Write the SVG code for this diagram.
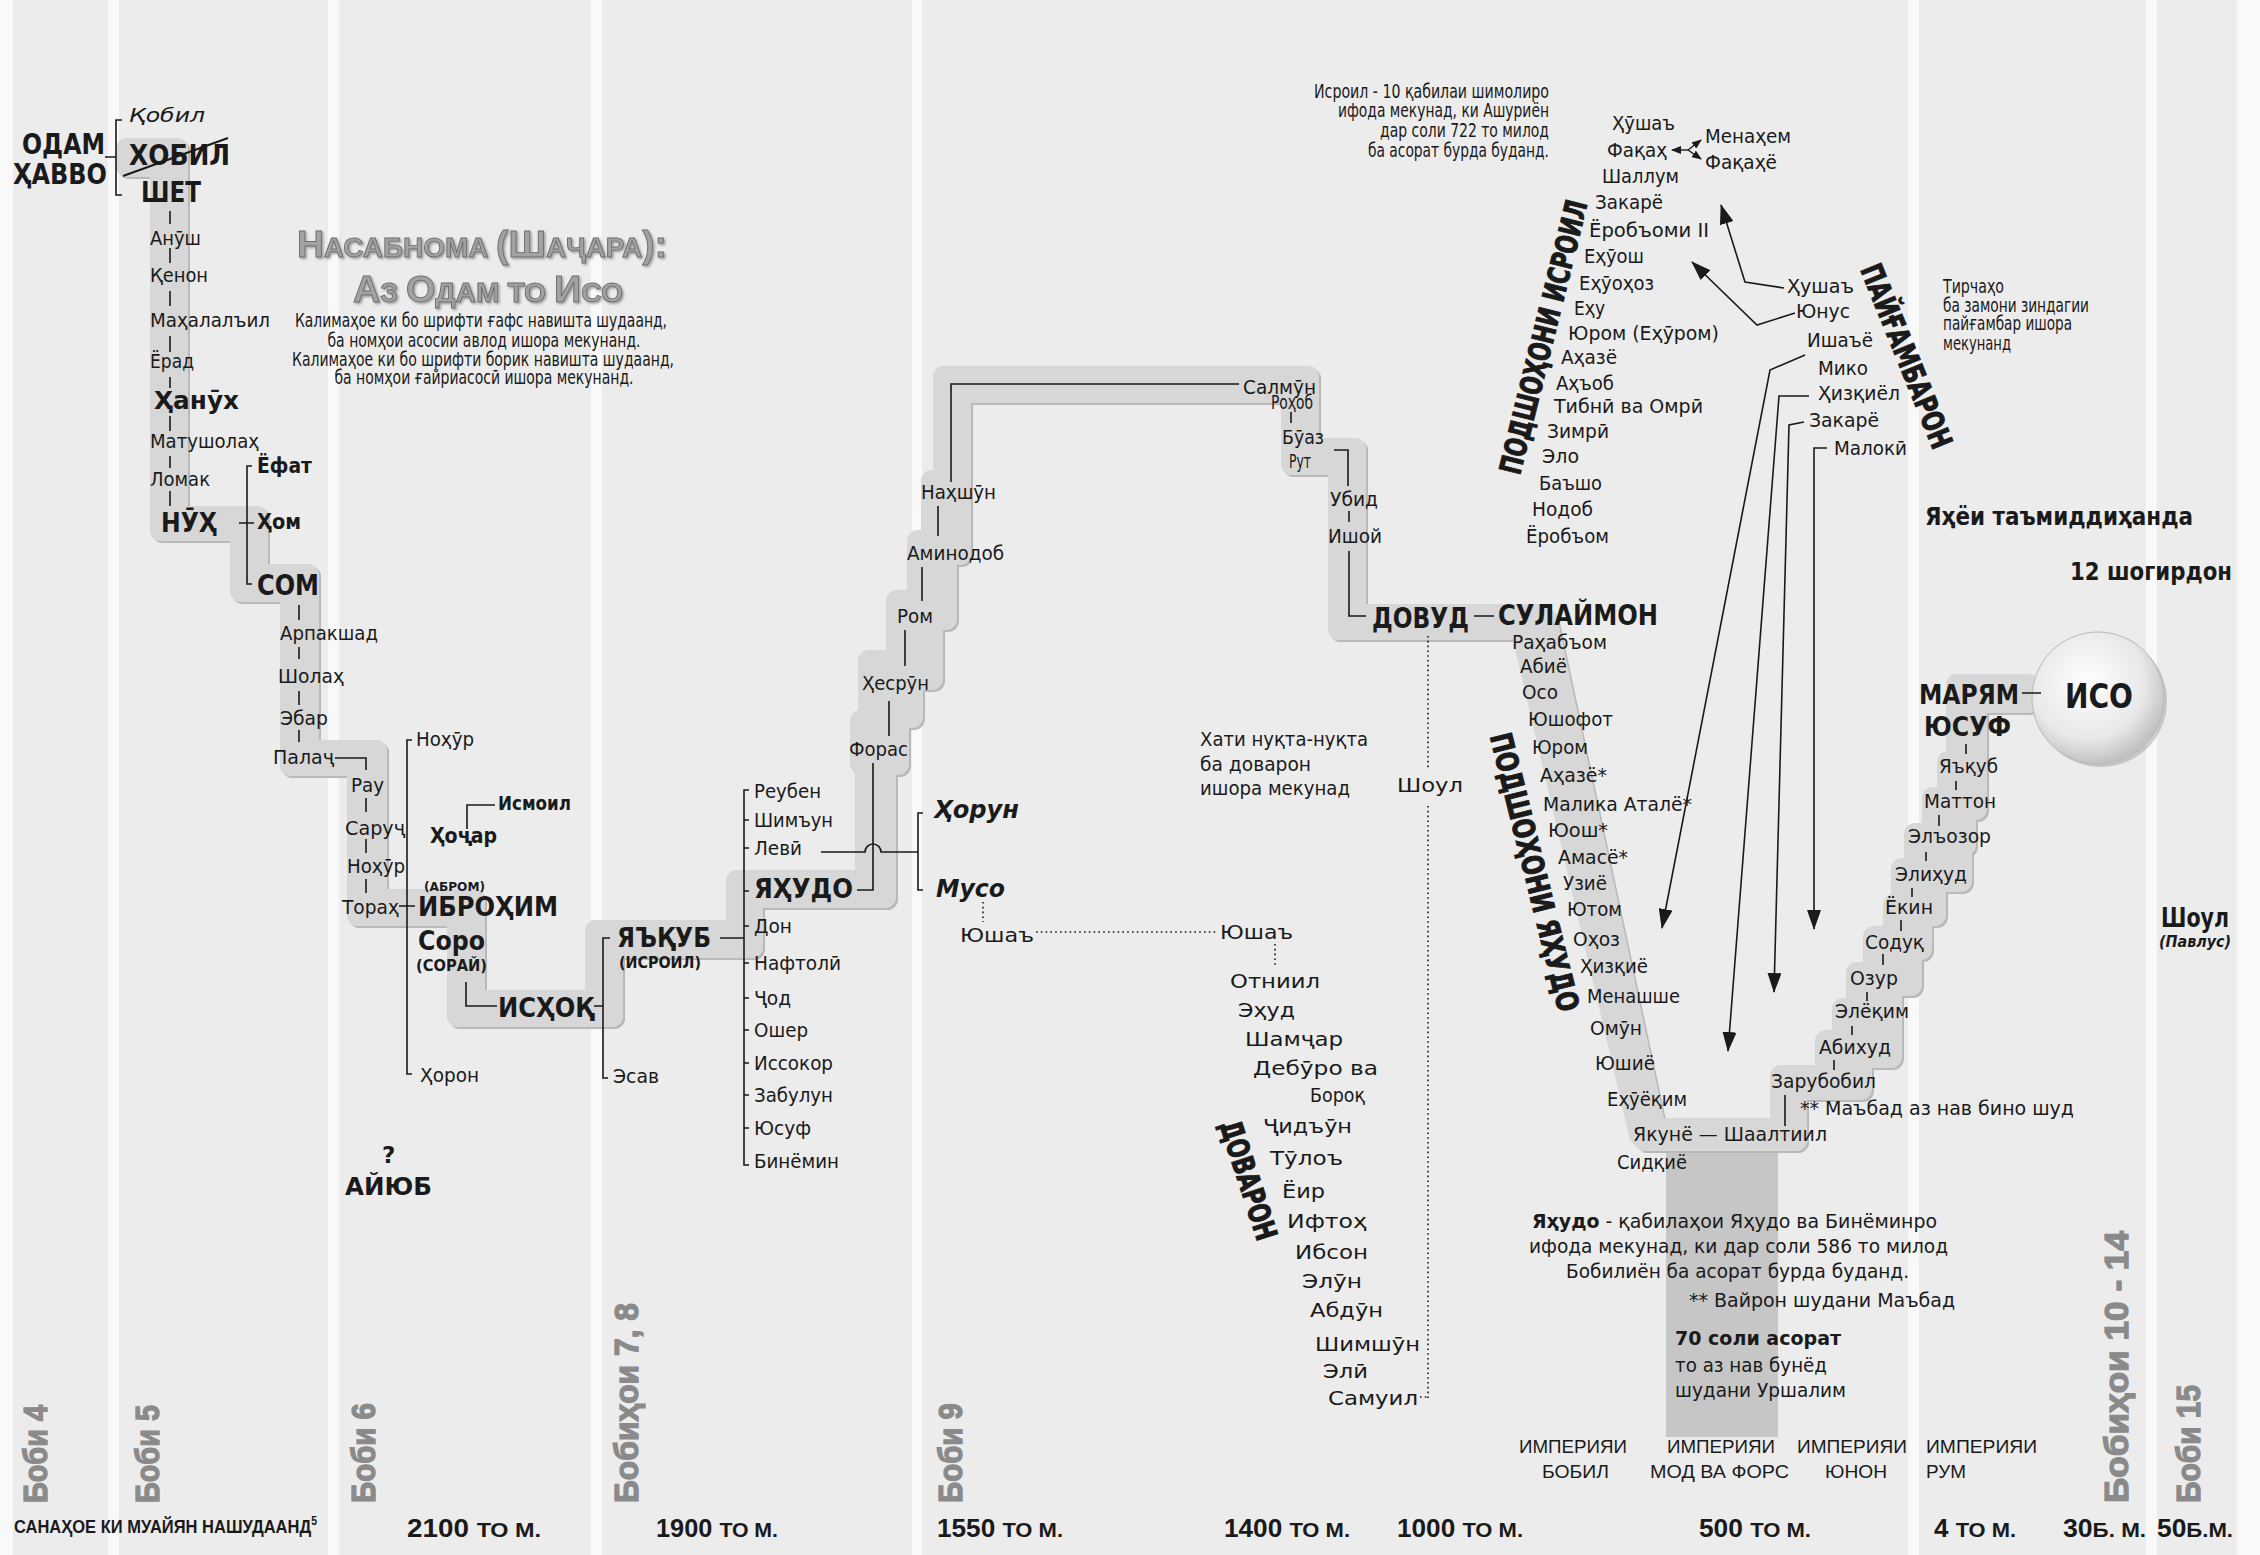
<svg xmlns="http://www.w3.org/2000/svg" width="2260" height="1555" viewBox="0 0 2260 1555">
<defs>
<style>
.n{font-family:"DejaVu Sans Condensed","DejaVu Sans",sans-serif;font-stretch:condensed;font-size:20px;fill:#1a1a1a}
.v{font-family:"DejaVu Sans",sans-serif;font-size:20px;fill:#1a1a1a}
.b{font-family:"DejaVu Sans",sans-serif;font-weight:bold;fill:#1a1a1a}
.hv{font-family:"DejaVu Sans",sans-serif;font-weight:bold;font-size:30px;fill:#1a1a1a;stroke:#1a1a1a;stroke-width:1.1;text-anchor:middle}
.ch{font-family:"Liberation Sans",sans-serif;font-weight:bold;font-size:33px;fill:#8a8a8a;stroke:#8a8a8a;stroke-width:1.3}
.dt{font-family:"Liberation Sans",sans-serif;font-weight:bold;font-size:25px;fill:#1a1a1a}
.em{font-family:"Liberation Sans",sans-serif;font-size:19px;fill:#1a1a1a}
.tt{font-family:"Liberation Sans",sans-serif;font-weight:bold;fill:#a2a2a2;stroke:#6e6e6e;stroke-width:0.9;text-anchor:middle}
.ln{stroke:#1a1a1a;stroke-width:1.6;fill:none}
.dot{stroke:#1a1a1a;stroke-width:1.6;stroke-dasharray:1.6 3.2;fill:none}
.arr{stroke:#1a1a1a;stroke-width:1.6;fill:none;marker-end:url(#ah)}
.arrs{stroke:#1a1a1a;stroke-width:1.4;fill:none;marker-end:url(#as)}
</style>
<marker id="ah" viewBox="0 0 20 14" refX="19" refY="7" markerWidth="20" markerHeight="14" markerUnits="userSpaceOnUse" orient="auto"><path d="M0,0 L20,7 L0,14 z" fill="#1a1a1a"/></marker>
<marker id="as" viewBox="0 0 10 8" refX="9" refY="4" markerWidth="10" markerHeight="8" markerUnits="userSpaceOnUse" orient="auto"><path d="M0,0 L10,4 L0,8 z" fill="#1a1a1a"/></marker>
<radialGradient id="isoG" cx="0.42" cy="0.38" r="0.62">
<stop offset="0" stop-color="#ffffff"/><stop offset="0.7" stop-color="#e8e8e8"/><stop offset="1" stop-color="#c2c2c2"/>
</radialGradient>
<filter id="tsh" x="-10%" y="-20%" width="120%" height="150%"><feDropShadow dx="1.5" dy="1.5" stdDeviation="1.2" flood-color="#000" flood-opacity="0.35"/></filter>
<g id="band">
<rect x="116" y="138" width="72" height="39" rx="11"/>
<rect x="150" y="138" width="38" height="403" rx="11"/>
<rect x="150" y="506" width="118" height="35" rx="11"/>
<rect x="230" y="506" width="38" height="96" rx="11"/>
<rect x="230" y="564" width="89" height="38" rx="11"/>
<rect x="280" y="564" width="39" height="212" rx="11"/>
<rect x="280" y="740" width="107" height="36" rx="11"/>
<rect x="347" y="740" width="40" height="186" rx="11"/>
<rect x="347" y="889" width="138" height="37" rx="11"/>
<rect x="447" y="889" width="38" height="138" rx="11"/>
<rect x="447" y="990" width="176" height="37" rx="11"/>
<rect x="585" y="920" width="38" height="107" rx="11"/>
<rect x="585" y="920" width="178" height="38" rx="11"/>
<rect x="726" y="870" width="37" height="88" rx="11"/>
<rect x="726" y="870" width="170" height="38" rx="11"/>
<rect x="855" y="740" width="41" height="168" rx="11"/>
<rect x="850" y="710" width="59" height="65" rx="11"/>
<rect x="858" y="650" width="65" height="78" rx="11"/>
<rect x="886" y="590" width="57" height="100" rx="11"/>
<rect x="907" y="530" width="50" height="100" rx="11"/>
<rect x="921" y="470" width="50" height="95" rx="11"/>
<rect x="933" y="366" width="38" height="144" rx="11"/>
<rect x="933" y="366" width="386" height="37" rx="11"/>
<rect x="1281" y="366" width="38" height="109" rx="11"/>
<rect x="1281" y="438" width="85" height="37" rx="11"/>
<rect x="1328" y="438" width="38" height="202" rx="11"/>
<rect x="1328" y="604" width="217" height="36" rx="11"/>
<polygon points="1500,604 1546,604 1557,616 1664,1118 1664,1151 1642,1151 1630,1140 1513,640 1500,640"/>
<rect x="1640" y="1118" width="167" height="33" rx="11"/>
<rect x="1770" y="1065" width="37" height="86" rx="11"/>
<rect x="1771" y="1065" width="83" height="35" rx="11"/>
<rect x="1815" y="1030" width="57" height="70" rx="11"/>
<rect x="1832" y="998" width="70" height="70" rx="11"/>
<rect x="1846" y="962" width="56" height="68" rx="11"/>
<rect x="1863" y="926" width="59" height="70" rx="11"/>
<rect x="1883" y="894" width="49" height="66" rx="11"/>
<rect x="1891" y="858" width="55" height="68" rx="11"/>
<rect x="1904" y="823" width="68" height="69" rx="11"/>
<rect x="1922" y="787" width="54" height="69" rx="11"/>
<rect x="1937" y="751" width="50" height="69" rx="11"/>
<rect x="1946" y="674" width="41" height="111" rx="11"/>
<rect x="1946" y="674" width="94" height="39" rx="11"/>
</g>
</defs>

<g id="background">
<rect x="0" y="0" width="2260" height="1555" fill="#ececec"/>
<g fill="#f9f9f9">
<rect x="0" y="0" width="13" height="1555"/>
<rect x="108" y="0" width="11" height="1555"/>
<rect x="328" y="0" width="11" height="1555"/>
<rect x="591" y="0" width="11" height="1555"/>
<rect x="912" y="0" width="10" height="1555"/>
<rect x="1908" y="0" width="11" height="1555"/>
<rect x="2146" y="0" width="11" height="1555"/>
<rect x="2237" y="0" width="23" height="1555"/>
</g>
</g>

<g id="lineage-band">
<rect x="1666" y="1140" width="112" height="297" fill="#c6c6c6"/>
<use href="#band" transform="translate(2,2)" fill="#b9b9b9"/>
<use href="#band" fill="#d7d7d7"/>
</g>

<g id="iso-circle">
<circle cx="2101" cy="701" r="66" fill="#9a9a9a" opacity="0.45"/>
<circle cx="2098" cy="698" r="66" fill="url(#isoG)" stroke="#b8b8b8" stroke-width="1"/>
</g>

<g id="chapters">
<text class="ch" transform="translate(47,1503) rotate(-90)" textLength="98" lengthAdjust="spacingAndGlyphs">Боби 4</text>
<text class="ch" transform="translate(159,1503) rotate(-90)" textLength="98" lengthAdjust="spacingAndGlyphs">Боби 5</text>
<text class="ch" transform="translate(375,1503) rotate(-90)" textLength="100" lengthAdjust="spacingAndGlyphs">Боби 6</text>
<text class="ch" transform="translate(638,1503) rotate(-90)" textLength="200" lengthAdjust="spacingAndGlyphs">Бобиҳои 7, 8</text>
<text class="ch" transform="translate(962,1503) rotate(-90)" textLength="100" lengthAdjust="spacingAndGlyphs">Боби 9</text>
<text class="ch" transform="translate(2128,1503) rotate(-90)" textLength="272" lengthAdjust="spacingAndGlyphs">Бобиҳои 10 - 14</text>
<text class="ch" transform="translate(2200,1503) rotate(-90)" textLength="118" lengthAdjust="spacingAndGlyphs">Боби 15</text>
</g>

<g id="title">
<g filter="url(#tsh)">
<text class="tt" x="482" y="257" textLength="370" lengthAdjust="spacingAndGlyphs"><tspan font-size="36">Н</tspan><tspan font-size="27">АСАБНОМА </tspan><tspan font-size="36">(Ш</tspan><tspan font-size="27">АҶАРА</tspan><tspan font-size="36">):</tspan></text>
<text class="tt" x="488" y="302" textLength="270" lengthAdjust="spacingAndGlyphs"><tspan font-size="36">А</tspan><tspan font-size="27">З </tspan><tspan font-size="36">О</tspan><tspan font-size="27">ДАМ ТО </tspan><tspan font-size="36">И</tspan><tspan font-size="27">СО</tspan></text>
</g>
<g class="n" font-size="17.5" text-anchor="middle">
<text x="481" y="327" textLength="372" lengthAdjust="spacingAndGlyphs">Калимаҳое ки бо шрифти ғафс навишта шудаанд,</text>
<text x="484" y="347" textLength="313" lengthAdjust="spacingAndGlyphs">ба номҳои асосии авлод ишора мекунанд.</text>
<text x="483" y="366" textLength="382" lengthAdjust="spacingAndGlyphs">Калимаҳое ки бо шрифти борик навишта шудаанд,</text>
<text x="484" y="384" textLength="299" lengthAdjust="spacingAndGlyphs">ба номҳои ғайриасосӣ ишора мекунанд.</text>
</g>
</g>

<g id="connectors">
<path class="ln" d="M122,120 H116 V195 H122 M105,157 H116"/>
<line x1="123" y1="176" x2="228" y2="138" stroke="#1a1a1a" stroke-width="2"/>
<path class="ln" d="M170,211 V224 M170,248 V263 M170,291 V306 M170,336 V352 M170,377 V388 M170,416 V431 M170,456 V468 M170,491 V506"/>
<path class="ln" d="M252,466 H247 V584 H252 M239,523 H254"/>
<path class="ln" d="M299,605 V620 M299,647 V659 M299,691 V705 M299,730 V742"/>
<path class="ln" d="M335,758 H366 V770 M366,798 V812 M366,839 V853 M366,879 V893"/>
<path class="ln" d="M412,740 H407 V1074 H412 M399,906 H415"/>
<path class="ln" d="M467,829 V805 H495 M466,982 V1006 H497"/>
<path class="ln" d="M610,938 H603 V1078 H608 M594,1006 H603"/>
<path class="ln" d="M749,790 H744 V1165 H749 M720,938 H744 M744,820 H749 M744,848 H749 M744,891 H749 M744,926 H749 M744,963 H749 M744,998 H749 M744,1030 H749 M744,1063 H749 M744,1095 H749 M744,1128 H749"/>
<path class="ln" d="M821,852 H865 A8,8 0 0 1 881,852 H918 M923,813 H918 V890 H923"/>
<path class="ln" d="M857,890 H873 V763"/>
<path class="ln" d="M938,506 V536 M922,567 V601 M905,630 V666 M889,701 V736"/>
<path class="ln" d="M951,482 V384 H1239 M1291,412 V423 M1334,450 H1348 V486 M1349,511 V522 M1349,551 V616 H1366 M1474,616 H1494"/>
<path class="dot" d="M1428,636 V768 M1428,806 V1400 M1420,1397 H1428"/>
<path class="dot" d="M983,902 V922 M1036,932 H1218 M1275,944 V968"/>
<path class="arrs" d="M1688,150 L1672,150"/>
<path class="arrs" d="M1688,150 L1701,140"/>
<path class="arrs" d="M1688,150 L1701,159"/>
<path class="arr" d="M1784,288 L1745,282 L1721,205"/>
<path class="arr" d="M1795,313 L1757,325 L1692,262"/>
<path class="arr" d="M1805,355 L1770,370 L1662,928"/>
<path class="arr" d="M1809,396 L1779,396 L1728,1051"/>
<path class="arr" d="M1804,422 L1789,425 L1774,992"/>
<path class="arr" d="M1827,448 L1814,448 L1814,929"/>
<path class="ln" d="M1966,744 V754 M1956,781 V790 M1939,815 V826 M1926,852 V861 M1912,888 V897 M1901,920 V931 M1883,954 V965 M1867,992 V1001 M1852,1026 V1035 M1834,1060 V1070 M1785,1095 V1126 M2022,693 H2041"/>
</g>

<g id="adam-to-terah">
<text class="b" font-size="28" x="22" y="154" textLength="83" lengthAdjust="spacingAndGlyphs">ОДАМ</text>
<text class="b" font-size="28" x="13" y="184" textLength="94" lengthAdjust="spacingAndGlyphs">ҲАВВО</text>
<text class="n" font-size="25" font-style="italic" x="129" y="122" textLength="76" lengthAdjust="spacingAndGlyphs">Қобил</text>
<text class="b" font-size="28" x="129" y="165" textLength="101" lengthAdjust="spacingAndGlyphs">ХОБИЛ</text>
<text class="b" font-size="28" x="141" y="202" textLength="60" lengthAdjust="spacingAndGlyphs">ШЕТ</text>
<text class="n" x="150" y="245" textLength="51" lengthAdjust="spacingAndGlyphs">Анӯш</text>
<text class="n" x="150" y="282" textLength="58" lengthAdjust="spacingAndGlyphs">Қенон</text>
<text class="n" x="150" y="327" textLength="120" lengthAdjust="spacingAndGlyphs">Маҳалалъил</text>
<text class="n" x="150" y="368" textLength="44" lengthAdjust="spacingAndGlyphs">Ёрад</text>
<text class="b" font-size="25" x="154" y="409" textLength="85" lengthAdjust="spacingAndGlyphs">Ҳанӯх</text>
<text class="n" x="150" y="448" textLength="109" lengthAdjust="spacingAndGlyphs">Матушолаҳ</text>
<text class="n" x="150" y="486" textLength="60" lengthAdjust="spacingAndGlyphs">Ломак</text>
<text class="b" font-size="27" x="161" y="532" textLength="56" lengthAdjust="spacingAndGlyphs">НӮҲ</text>
<text class="b" font-size="22" x="257" y="473" textLength="55" lengthAdjust="spacingAndGlyphs">Ёфат</text>
<text class="b" font-size="22" x="257" y="529" textLength="44" lengthAdjust="spacingAndGlyphs">Ҳом</text>
<text class="b" font-size="28" x="257" y="595" textLength="62" lengthAdjust="spacingAndGlyphs">СОМ</text>
<text class="n" x="280" y="640" textLength="98" lengthAdjust="spacingAndGlyphs">Арпакшад</text>
<text class="n" x="278" y="683" textLength="66" lengthAdjust="spacingAndGlyphs">Шолаҳ</text>
<text class="n" x="280" y="725" textLength="48" lengthAdjust="spacingAndGlyphs">Эбар</text>
<text class="n" x="273" y="764" textLength="61" lengthAdjust="spacingAndGlyphs">Палаҷ</text>
<text class="n" x="351" y="792" textLength="33" lengthAdjust="spacingAndGlyphs">Рау</text>
<text class="n" x="345" y="835" textLength="60" lengthAdjust="spacingAndGlyphs">Саруҷ</text>
<text class="n" x="347" y="873" textLength="58" lengthAdjust="spacingAndGlyphs">Ноҳӯр</text>
<text class="n" x="342" y="914" textLength="57" lengthAdjust="spacingAndGlyphs">Тораҳ</text>
</g>

<g id="abraham">
<text class="n" x="416" y="746" textLength="58" lengthAdjust="spacingAndGlyphs">Ноҳӯр</text>
<text class="n" x="420" y="1082" textLength="59" lengthAdjust="spacingAndGlyphs">Ҳорон</text>
<text class="b" font-size="12" x="424" y="891" textLength="61" lengthAdjust="spacingAndGlyphs">(АБРОМ)</text>
<text class="b" font-size="26" x="418" y="916" textLength="140" lengthAdjust="spacingAndGlyphs">ИБРОҲИМ</text>
<text class="b" font-size="26" x="418" y="950" textLength="67" lengthAdjust="spacingAndGlyphs">Соро</text>
<text class="b" font-size="15" x="416" y="971" textLength="71" lengthAdjust="spacingAndGlyphs">(СОРАЙ)</text>
<text class="b" font-size="19" x="498" y="810" textLength="73" lengthAdjust="spacingAndGlyphs">Исмоил</text>
<text class="b" font-size="21" x="430" y="843" textLength="67" lengthAdjust="spacingAndGlyphs">Ҳоҷар</text>
<text class="b" font-size="26" x="498" y="1017" textLength="96" lengthAdjust="spacingAndGlyphs">ИСҲОҚ</text>
<text class="b" font-size="23" x="382" y="1163">?</text>
<text class="b" font-size="25" x="345" y="1195" textLength="87" lengthAdjust="spacingAndGlyphs">АЙЮБ</text>
</g>

<g id="jacob">
<text class="b" font-size="26" x="617" y="947" textLength="94" lengthAdjust="spacingAndGlyphs">ЯЪҚУБ</text>
<text class="b" font-size="15" x="619" y="968" textLength="82" lengthAdjust="spacingAndGlyphs">(ИСРОИЛ)</text>
<text class="n" x="613" y="1083" textLength="46" lengthAdjust="spacingAndGlyphs">Эсав</text>
<g class="n" font-size="21">
<text x="754" y="798" textLength="67" lengthAdjust="spacingAndGlyphs">Реубен</text>
<text x="754" y="827" textLength="79" lengthAdjust="spacingAndGlyphs">Шимъун</text>
<text x="754" y="855" textLength="48" lengthAdjust="spacingAndGlyphs">Левӣ</text>
<text x="754" y="933" textLength="38" lengthAdjust="spacingAndGlyphs">Дон</text>
<text x="754" y="970" textLength="87" lengthAdjust="spacingAndGlyphs">Нафтолӣ</text>
<text x="754" y="1005" textLength="37" lengthAdjust="spacingAndGlyphs">Ҷод</text>
<text x="754" y="1037" textLength="54" lengthAdjust="spacingAndGlyphs">Ошер</text>
<text x="754" y="1070" textLength="79" lengthAdjust="spacingAndGlyphs">Иссокор</text>
<text x="754" y="1102" textLength="79" lengthAdjust="spacingAndGlyphs">Забулун</text>
<text x="754" y="1135" textLength="57" lengthAdjust="spacingAndGlyphs">Юсуф</text>
<text x="754" y="1168" textLength="85" lengthAdjust="spacingAndGlyphs">Бинёмин</text>
</g>
<text class="b" font-size="26" x="754" y="898" textLength="99" lengthAdjust="spacingAndGlyphs">ЯҲУДО</text>
<text class="b" font-size="25" font-style="italic" x="934" y="818" textLength="85" lengthAdjust="spacingAndGlyphs">Ҳорун</text>
<text class="b" font-size="25" font-style="italic" x="936" y="897" textLength="69" lengthAdjust="spacingAndGlyphs">Мусо</text>
<text class="v" font-size="24" x="960" y="942" textLength="74" lengthAdjust="spacingAndGlyphs">Юшаъ</text>
</g>

<g id="judah-to-david">
<text class="n" x="849" y="756" textLength="59" lengthAdjust="spacingAndGlyphs">Форас</text>
<text class="n" x="862" y="690" textLength="67" lengthAdjust="spacingAndGlyphs">Ҳесрӯн</text>
<text class="n" x="897" y="623" textLength="36" lengthAdjust="spacingAndGlyphs">Ром</text>
<text class="n" x="907" y="560" textLength="97" lengthAdjust="spacingAndGlyphs">Аминодоб</text>
<text class="n" x="921" y="499" textLength="75" lengthAdjust="spacingAndGlyphs">Наҳшӯн</text>
<text class="n" x="1243" y="394" textLength="73" lengthAdjust="spacingAndGlyphs">Салмӯн</text>
<text class="n" font-size="15" x="1271" y="409" textLength="42" lengthAdjust="spacingAndGlyphs">Роҳоб</text>
<text class="n" x="1282" y="444" textLength="42" lengthAdjust="spacingAndGlyphs">Бӯаз</text>
<text class="n" font-size="15" x="1289" y="468" textLength="22" lengthAdjust="spacingAndGlyphs">Рут</text>
<text class="n" x="1330" y="506" textLength="48" lengthAdjust="spacingAndGlyphs">Убид</text>
<text class="n" x="1328" y="543" textLength="54" lengthAdjust="spacingAndGlyphs">Ишой</text>
<text class="b" font-size="28" x="1372" y="628" textLength="97" lengthAdjust="spacingAndGlyphs">ДОВУД</text>
<text class="b" font-size="28" x="1498" y="625" textLength="160" lengthAdjust="spacingAndGlyphs">СУЛАЙМОН</text>
</g>

<g id="judges">
<text class="v" font-size="19" x="1200" y="746" textLength="168" lengthAdjust="spacingAndGlyphs">Хати нуқта-нуқта</text>
<text class="v" font-size="19" x="1200" y="771" textLength="111" lengthAdjust="spacingAndGlyphs">ба доварон</text>
<text class="v" font-size="19" x="1200" y="795" textLength="150" lengthAdjust="spacingAndGlyphs">ишора мекунад</text>
<text class="v" font-size="26" x="1397" y="792" textLength="66" lengthAdjust="spacingAndGlyphs">Шоул</text>
<g class="v" font-size="23">
<text x="1220" y="939" textLength="73" lengthAdjust="spacingAndGlyphs">Юшаъ</text>
<text x="1230" y="988" textLength="90" lengthAdjust="spacingAndGlyphs">Отниил</text>
<text x="1238" y="1017" textLength="57" lengthAdjust="spacingAndGlyphs">Эҳуд</text>
<text x="1245" y="1046" textLength="98" lengthAdjust="spacingAndGlyphs">Шамҷар</text>
<text x="1253" y="1075" textLength="125" lengthAdjust="spacingAndGlyphs">Дебӯро ва</text>
<text x="1310" y="1102" textLength="55" lengthAdjust="spacingAndGlyphs">Бороқ</text>
<text x="1263" y="1133" textLength="89" lengthAdjust="spacingAndGlyphs">Ҷидъӯн</text>
<text x="1270" y="1165" textLength="73" lengthAdjust="spacingAndGlyphs">Тӯлоъ</text>
<text x="1282" y="1198" textLength="43" lengthAdjust="spacingAndGlyphs">Ёир</text>
<text x="1287" y="1228" textLength="80" lengthAdjust="spacingAndGlyphs">Ифтоҳ</text>
<text x="1295" y="1259" textLength="73" lengthAdjust="spacingAndGlyphs">Ибсон</text>
<text x="1302" y="1288" textLength="60" lengthAdjust="spacingAndGlyphs">Элӯн</text>
<text x="1310" y="1317" textLength="73" lengthAdjust="spacingAndGlyphs">Абдӯн</text>
<text x="1315" y="1351" textLength="105" lengthAdjust="spacingAndGlyphs">Шимшӯн</text>
<text x="1323" y="1378" textLength="45" lengthAdjust="spacingAndGlyphs">Элӣ</text>
<text x="1328" y="1405" textLength="90" lengthAdjust="spacingAndGlyphs">Самуил</text>
</g>
<text class="hv" transform="translate(1249,1180) rotate(72)" y="11" textLength="124" lengthAdjust="spacingAndGlyphs">ДОВАРОН</text>
</g>

<g id="israel-kings">
<g class="n" font-size="17" text-anchor="end">
<text x="1549" y="98" textLength="235" lengthAdjust="spacingAndGlyphs">Исроил - 10 қабилаи шимолиро</text>
<text x="1549" y="117" textLength="211" lengthAdjust="spacingAndGlyphs">ифода мекунад, ки Ашуриён</text>
<text x="1549" y="137" textLength="169" lengthAdjust="spacingAndGlyphs">дар соли 722 то милод</text>
<text x="1549" y="157" textLength="181" lengthAdjust="spacingAndGlyphs">ба асорат бурда буданд.</text>
</g>
<g class="n" font-size="21">
<text x="1612" y="130" textLength="63" lengthAdjust="spacingAndGlyphs">Ҳӯшаъ</text>
<text x="1607" y="157" textLength="60" lengthAdjust="spacingAndGlyphs">Фақаҳ</text>
<text x="1602" y="183" textLength="77" lengthAdjust="spacingAndGlyphs">Шаллум</text>
<text x="1595" y="209" textLength="68" lengthAdjust="spacingAndGlyphs">Закарё</text>
<text x="1589" y="237" textLength="120" lengthAdjust="spacingAndGlyphs">Ёробъоми II</text>
<text x="1584" y="263" textLength="60" lengthAdjust="spacingAndGlyphs">Еҳӯош</text>
<text x="1579" y="290" textLength="75" lengthAdjust="spacingAndGlyphs">Еҳӯоҳоз</text>
<text x="1574" y="315" textLength="31" lengthAdjust="spacingAndGlyphs">Еҳу</text>
<text x="1568" y="340" textLength="151" lengthAdjust="spacingAndGlyphs">Юром (Еҳӯром)</text>
<text x="1561" y="364" textLength="56" lengthAdjust="spacingAndGlyphs">Аҳазё</text>
<text x="1556" y="390" textLength="58" lengthAdjust="spacingAndGlyphs">Аҳъоб</text>
<text x="1554" y="413" textLength="149" lengthAdjust="spacingAndGlyphs">Тибнӣ ва Омрӣ</text>
<text x="1547" y="438" textLength="62" lengthAdjust="spacingAndGlyphs">Зимрӣ</text>
<text x="1542" y="463" textLength="37" lengthAdjust="spacingAndGlyphs">Эло</text>
<text x="1539" y="490" textLength="63" lengthAdjust="spacingAndGlyphs">Баъшо</text>
<text x="1532" y="516" textLength="61" lengthAdjust="spacingAndGlyphs">Нодоб</text>
<text x="1526" y="543" textLength="83" lengthAdjust="spacingAndGlyphs">Ёробъом</text>
<text x="1705" y="143" textLength="86" lengthAdjust="spacingAndGlyphs">Менаҳем</text>
<text x="1705" y="169" textLength="72" lengthAdjust="spacingAndGlyphs">Фақаҳё</text>
</g>
<text class="hv" transform="translate(1543,337) rotate(-76)" y="11" textLength="281" lengthAdjust="spacingAndGlyphs">ПОДШОҲОНИ ИСРОИЛ</text>
</g>

<g id="prophets">
<g class="n" font-size="20">
<text x="1787" y="293" textLength="67" lengthAdjust="spacingAndGlyphs">Ҳушаъ</text>
<text x="1796" y="318" textLength="54" lengthAdjust="spacingAndGlyphs">Юнус</text>
<text x="1807" y="347" textLength="66" lengthAdjust="spacingAndGlyphs">Ишаъё</text>
<text x="1818" y="375" textLength="50" lengthAdjust="spacingAndGlyphs">Мико</text>
<text x="1818" y="400" textLength="82" lengthAdjust="spacingAndGlyphs">Ҳизқиёл</text>
<text x="1809" y="427" textLength="70" lengthAdjust="spacingAndGlyphs">Закарё</text>
<text x="1834" y="455" textLength="73" lengthAdjust="spacingAndGlyphs">Малокӣ</text>
</g>
<text class="hv" transform="translate(1907,356) rotate(68)" y="11" textLength="196" lengthAdjust="spacingAndGlyphs">ПАЙҒАМБАРОН</text>
<g class="n" font-size="16">
<text x="1943" y="293" textLength="61" lengthAdjust="spacingAndGlyphs">Тирчаҳо</text>
<text x="1943" y="312" textLength="146" lengthAdjust="spacingAndGlyphs">ба замони зиндагии</text>
<text x="1943" y="330" textLength="129" lengthAdjust="spacingAndGlyphs">пайғамбар ишора</text>
<text x="1943" y="350" textLength="68" lengthAdjust="spacingAndGlyphs">мекунанд</text>
</g>
<text class="b" font-size="24" x="1925" y="525" textLength="268" lengthAdjust="spacingAndGlyphs">Яҳёи таъмиддиҳанда</text>
<text class="b" font-size="24" x="2070" y="580" textLength="162" lengthAdjust="spacingAndGlyphs">12 шогирдон</text>
</g>

<g id="judah-kings">
<g class="v" font-size="20">
<text x="1512" y="649" textLength="95" lengthAdjust="spacingAndGlyphs">Раҳабъом</text>
<text x="1520" y="673" textLength="47" lengthAdjust="spacingAndGlyphs">Абиё</text>
<text x="1522" y="699" textLength="36" lengthAdjust="spacingAndGlyphs">Осо</text>
<text x="1528" y="726" textLength="85" lengthAdjust="spacingAndGlyphs">Юшофот</text>
<text x="1532" y="754" textLength="56" lengthAdjust="spacingAndGlyphs">Юром</text>
<text x="1540" y="782" textLength="67" lengthAdjust="spacingAndGlyphs">Аҳазё*</text>
<text x="1543" y="811" textLength="149" lengthAdjust="spacingAndGlyphs">Малика Аталё*</text>
<text x="1548" y="837" textLength="60" lengthAdjust="spacingAndGlyphs">Юош*</text>
<text x="1558" y="864" textLength="70" lengthAdjust="spacingAndGlyphs">Амасё*</text>
<text x="1563" y="890" textLength="44" lengthAdjust="spacingAndGlyphs">Узиё</text>
<text x="1567" y="916" textLength="55" lengthAdjust="spacingAndGlyphs">Ютом</text>
<text x="1573" y="946" textLength="47" lengthAdjust="spacingAndGlyphs">Оҳоз</text>
<text x="1580" y="973" textLength="68" lengthAdjust="spacingAndGlyphs">Ҳизқиё</text>
<text x="1587" y="1003" textLength="93" lengthAdjust="spacingAndGlyphs">Менашше</text>
<text x="1590" y="1035" textLength="52" lengthAdjust="spacingAndGlyphs">Омӯн</text>
<text x="1595" y="1070" textLength="60" lengthAdjust="spacingAndGlyphs">Юшиё</text>
<text x="1607" y="1106" textLength="80" lengthAdjust="spacingAndGlyphs">Еҳӯёқим</text>
<text x="1633" y="1141" textLength="194" lengthAdjust="spacingAndGlyphs">Якунё — Шаалтиил</text>
<text x="1617" y="1169" textLength="70" lengthAdjust="spacingAndGlyphs">Сидқиё</text>
<text x="1800" y="1115" textLength="274" lengthAdjust="spacingAndGlyphs">** Маъбад аз нав бино шуд</text>
</g>
<text class="hv" transform="translate(1535,872) rotate(76)" y="11" textLength="286" lengthAdjust="spacingAndGlyphs">ПОДШОҲОНИ ЯҲУДО</text>
</g>

<g id="joseph-line">
<g class="n" font-size="20">
<text x="1939" y="773" textLength="59" lengthAdjust="spacingAndGlyphs">Яъқуб</text>
<text x="1924" y="808" textLength="72" lengthAdjust="spacingAndGlyphs">Маттон</text>
<text x="1908" y="843" textLength="83" lengthAdjust="spacingAndGlyphs">Элъозор</text>
<text x="1895" y="881" textLength="72" lengthAdjust="spacingAndGlyphs">Элиҳуд</text>
<text x="1885" y="914" textLength="48" lengthAdjust="spacingAndGlyphs">Ёкин</text>
<text x="1865" y="949" textLength="59" lengthAdjust="spacingAndGlyphs">Содуқ</text>
<text x="1850" y="985" textLength="48" lengthAdjust="spacingAndGlyphs">Озур</text>
<text x="1835" y="1018" textLength="74" lengthAdjust="spacingAndGlyphs">Элёқим</text>
<text x="1819" y="1054" textLength="72" lengthAdjust="spacingAndGlyphs">Абихуд</text>
<text x="1771" y="1088" textLength="105" lengthAdjust="spacingAndGlyphs">Зарубобил</text>
</g>
<text class="b" font-size="26" x="1919" y="704" textLength="100" lengthAdjust="spacingAndGlyphs">МАРЯМ</text>
<text class="b" font-size="26" x="1924" y="736" textLength="87" lengthAdjust="spacingAndGlyphs">ЮСУФ</text>
<text class="b" font-size="34" x="2065" y="708" textLength="68" lengthAdjust="spacingAndGlyphs">ИСО</text>
<text class="b" font-size="26" x="2161" y="927" textLength="68" lengthAdjust="spacingAndGlyphs">Шоул</text>
<text class="b" font-size="16" font-style="italic" x="2159" y="947" textLength="72" lengthAdjust="spacingAndGlyphs">(Павлус)</text>
</g>

<g id="exile-notes">
<g class="n" font-size="21">
<text x="1532" y="1228" textLength="405" lengthAdjust="spacingAndGlyphs"><tspan font-weight="bold">Яҳудо</tspan> - қабилаҳои Яҳудо ва Бинёминро</text>
<text x="1529" y="1253" textLength="419" lengthAdjust="spacingAndGlyphs">ифода мекунад, ки дар соли 586 то милод</text>
<text x="1566" y="1278" textLength="343" lengthAdjust="spacingAndGlyphs">Бобилиён ба асорат бурда буданд.</text>
<text x="1689" y="1307" textLength="266" lengthAdjust="spacingAndGlyphs">** Вайрон шудани Маъбад</text>
<text x="1675" y="1345" font-weight="bold" textLength="166" lengthAdjust="spacingAndGlyphs">70 соли асорат</text>
<text x="1675" y="1372" textLength="152" lengthAdjust="spacingAndGlyphs">то аз нав бунёд</text>
<text x="1675" y="1397" textLength="171" lengthAdjust="spacingAndGlyphs">шудани Уршалим</text>
</g>
</g>

<g id="empires" class="em">
<text x="1519" y="1453" textLength="108" lengthAdjust="spacingAndGlyphs">ИМПЕРИЯИ</text>
<text x="1542" y="1478" textLength="67" lengthAdjust="spacingAndGlyphs">БОБИЛ</text>
<text x="1667" y="1453" textLength="108" lengthAdjust="spacingAndGlyphs">ИМПЕРИЯИ</text>
<text x="1650" y="1478" textLength="139" lengthAdjust="spacingAndGlyphs">МОД ВА ФОРС</text>
<text x="1797" y="1453" textLength="110" lengthAdjust="spacingAndGlyphs">ИМПЕРИЯИ</text>
<text x="1825" y="1478" textLength="62" lengthAdjust="spacingAndGlyphs">ЮНОН</text>
<text x="1926" y="1453" textLength="111" lengthAdjust="spacingAndGlyphs">ИМПЕРИЯИ</text>
<text x="1926" y="1478" textLength="40" lengthAdjust="spacingAndGlyphs">РУМ</text>
</g>

<g id="dates" class="dt">
<text x="14" y="1533" font-size="19" textLength="303" lengthAdjust="spacingAndGlyphs">САНАҲОЕ КИ МУАЙЯН НАШУДААНД<tspan font-size="12" dy="-8">5</tspan></text>
<text x="407" y="1537" textLength="134" lengthAdjust="spacingAndGlyphs">2100 <tspan font-size="21">ТО М.</tspan></text>
<text x="656" y="1537" textLength="122" lengthAdjust="spacingAndGlyphs">1900 <tspan font-size="21">ТО М.</tspan></text>
<text x="937" y="1537" textLength="126" lengthAdjust="spacingAndGlyphs">1550 <tspan font-size="21">ТО М.</tspan></text>
<text x="1224" y="1537" textLength="126" lengthAdjust="spacingAndGlyphs">1400 <tspan font-size="21">ТО М.</tspan></text>
<text x="1397" y="1537" textLength="126" lengthAdjust="spacingAndGlyphs">1000 <tspan font-size="21">ТО М.</tspan></text>
<text x="1699" y="1537" textLength="112" lengthAdjust="spacingAndGlyphs">500 <tspan font-size="21">ТО М.</tspan></text>
<text x="1934" y="1537" textLength="82" lengthAdjust="spacingAndGlyphs">4 <tspan font-size="21">ТО М.</tspan></text>
<text x="2063" y="1537" textLength="83" lengthAdjust="spacingAndGlyphs">30<tspan font-size="21">Б. М.</tspan></text>
<text x="2157" y="1537" textLength="76" lengthAdjust="spacingAndGlyphs">50<tspan font-size="21">Б.М.</tspan></text>
</g>
</svg>
